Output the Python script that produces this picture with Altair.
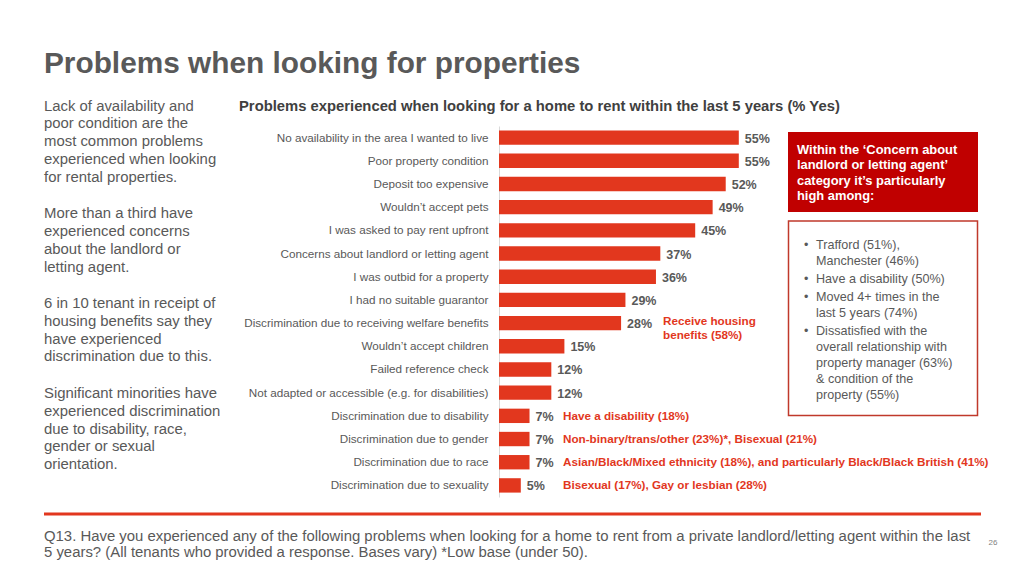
import altair as alt
import pandas as pd

# ---------------- data ----------------
categories = [
    "No availability in the area I wanted to live",
    "Poor property condition",
    "Deposit too expensive",
    "Wouldn\u2019t accept pets",
    "I was asked to pay rent upfront",
    "Concerns about landlord or letting agent",
    "I was outbid for a property",
    "I had no suitable guarantor",
    "Discrimination due to receiving welfare benefits",
    "Wouldn\u2019t accept children",
    "Failed reference check",
    "Not adapted or accessible (e.g. for disabilities)",
    "Discrimination due to disability",
    "Discrimination due to gender",
    "Discrimination due to race",
    "Discrimination due to sexuality",
]
values = [55, 55, 52, 49, 45, 37, 36, 29, 28, 15, 12, 12, 7, 7, 7, 5]

note_categories = [
    "Discrimination due to disability",
    "Discrimination due to gender",
    "Discrimination due to race",
    "Discrimination due to sexuality",
]
note_texts = [
    "Have a disability (18%)",
    "Non-binary/trans/other (23%)*, Bisexual (21%)",
    "Asian/Black/Mixed ethnicity (18%), and particularly Black/Black British (41%)",
    "Bisexual (17%), Gay or lesbian (28%)",
]
benefit_categories = ["Discrimination due to receiving welfare benefits"]
benefit_notes = [["Receive housing", "benefits (58%)"]]

title_text = "Problems when looking for properties"
subtitle_text = "Problems experienced when looking for a home to rent within the last 5 years (% Yes)"
left_paragraphs = [
    ["Lack of availability and", "poor condition are the", "most common problems",
     "experienced when looking", "for rental properties."],
    ["More than a third have", "experienced concerns", "about the landlord or", "letting agent."],
    ["6 in 10 tenant in receipt of", "housing benefits say they", "have experienced",
     "discrimination due to this."],
    ["Significant minorities have", "experienced discrimination", "due to disability, race,",
     "gender or sexual", "orientation."],
]
box_heading = ["Within the \u2018Concern about", "landlord or letting agent\u2019",
               "category it\u2019s particularly", "high among:"]
bullets = [
    ["Trafford (51%),", "Manchester (46%)"],
    ["Have a disability (50%)"],
    ["Moved 4+ times in the", "last 5 years (74%)"],
    ["Dissatisfied with the", "overall relationship with", "property manager (63%)",
     "& condition of the", "property (55%)"],
]
footnote = ["Q13. Have you experienced any of the following problems when looking for a home to rent from a private landlord/letting agent within the last",
            "5 years? (All tenants who provided a response. Bases vary) *Low base (under 50)."]
page_number = "26"

# ---------------- style ----------------
FONT = "Liberation Sans"
GREY = "#595959"
BAR_RED = "#E2371E"
DARK_RED = "#C00000"
OX, OY = 499, 126  # page position of the plot origin


def X(px):
    return px - OX


def Y(py):
    return py - OY


df = pd.DataFrame({"category": categories, "value": values})
df["label"] = [f"{v}%" for v in values]
notes_df = pd.DataFrame({"category": note_categories, "note": note_texts})
benefit_df = pd.DataFrame({"category": benefit_categories, "note": benefit_notes})

one = alt.Data(values=[{"k": 1}])

y_enc = alt.Y(
    "category:N",
    sort=categories,
    scale=alt.Scale(paddingInner=0.38, paddingOuter=0.19),
    axis=alt.Axis(
        title=None, ticks=False, labelPadding=11, labelFont=FONT, labelFontSize=11.7,
        labelColor=GREY, labelLimit=400, domainColor="#d9d9d9", domainWidth=1,
    ),
)
x_enc = alt.X("value:Q", scale=alt.Scale(domain=[0, 100]), axis=None)

bars = alt.Chart(df).mark_bar(color=BAR_RED).encode(y=y_enc, x=x_enc)
labels = alt.Chart(df).mark_text(
    align="left", baseline="middle", dx=6, dy=1, font=FONT, fontSize=12.5,
    fontWeight="bold", color=GREY,
).encode(y=alt.Y("category:N", sort=categories), x="value:Q", text="label:N")

notes = alt.Chart(notes_df).mark_text(
    align="left", baseline="middle", font=FONT, fontSize=11.7, fontWeight="bold", color=BAR_RED,
).encode(y=alt.Y("category:N", sort=categories), x=alt.value(X(563)), text="note:N")

benefit = alt.Chart(benefit_df).mark_text(
    align="left", baseline="middle", dy=-2, font=FONT, fontSize=11.7, fontWeight="bold",
    color=BAR_RED, lineHeight=14,
).encode(y=alt.Y("category:N", sort=categories), x=alt.value(X(663)), text="note:N")


def txt(lines, x, y, size, color=GREY, weight="normal", lh=None, align="left"):
    kw = dict(align=align, baseline="alphabetic", font=FONT, fontSize=size,
              fontWeight=weight, color=color)
    if lh is not None:
        kw["lineHeight"] = lh
    return alt.Chart(one).mark_text(**kw).encode(
        x=alt.value(X(x)), y=alt.value(Y(y)), text=alt.value(lines)
    )


layers = [bars, labels, notes, benefit]

# title & subtitle
layers.append(txt(title_text, 44, 73, 29.8, weight="bold"))
layers.append(txt(subtitle_text, 239, 111, 14.8, color="#404040", weight="bold"))

# left commentary
para_y = [110.7, 218.3, 308, 398]
for lines, yy in zip(left_paragraphs, para_y):
    layers.append(txt(lines, 44, yy, 14.9, lh=17.8))

# red heading box
layers.append(
    alt.Chart(one).mark_rect(color=DARK_RED).encode(
        x=alt.value(X(788)), x2=alt.value(X(978)), y=alt.value(Y(132)), y2=alt.value(Y(212))
    )
)
layers.append(txt(box_heading, 797, 154, 12.9, color="white", weight="bold", lh=15.4))

# bordered bullets box
layers.append(
    alt.Chart(one).mark_rect(fill="white", stroke="#C0392B", strokeWidth=1.5).encode(
        x=alt.value(X(788.5)), x2=alt.value(X(977.5)), y=alt.value(Y(221)), y2=alt.value(Y(415.5))
    )
)
bullet_y = [248.5, 282.5, 300.5, 334.5]
for lines, yy in zip(bullets, bullet_y):
    layers.append(txt("\u2022", 804, yy, 12.5))
    layers.append(txt(lines, 816, yy, 12.6, lh=16))

# footnote
layers.append(
    alt.Chart(one).mark_rule(color=BAR_RED, strokeWidth=3).encode(
        x=alt.value(X(44)), x2=alt.value(X(981)), y=alt.value(Y(514))
    )
)
layers.append(txt(footnote, 44, 541, 14.9, lh=16))
layers.append(txt(page_number, 993, 545, 8, color="#7f7f7f", align="center"))

chart = alt.layer(*layers).properties(
    width=436,
    height=371,
    autosize=alt.AutoSizeParams(type="none"),
    padding={"left": 491, "top": 118, "right": 75, "bottom": 67},
).configure_view(stroke=None)

chart.save("out.html", embed_options={"renderer": "svg", "actions": False})
